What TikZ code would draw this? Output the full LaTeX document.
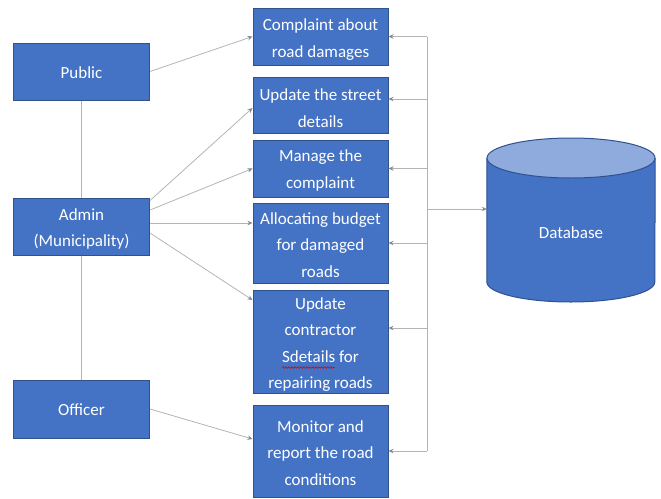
\documentclass[tikz,border=0pt]{standalone}
\usepackage{fontspec}
\setmainfont{Carlito}
\usetikzlibrary{arrows.meta,decorations.pathmorphing}
\definecolor{boxfill}{HTML}{4472C4}
\definecolor{boxedge}{HTML}{2F528F}
\definecolor{capfill}{HTML}{8FAADC}
\definecolor{wire}{HTML}{B4B4B4}
\definecolor{tipcol}{HTML}{7F8A9C}
\tikzset{
  actor/.style={rectangle, fill=boxfill, draw=boxedge, line width=1pt,
    minimum width=136pt, inner sep=0pt},
  task/.style={rectangle, fill=boxfill, draw=boxedge, line width=1pt,
    minimum width=135pt, inner sep=0pt},
  caption/.style={inner sep=0pt, text=white, align=center,
    font=\fontsize{17}{26.5}\selectfont},
  link/.style={draw=wire, line width=0.8pt},
  arr/.style={link, -{Stealth[length=5pt,width=4.5pt,color=tipcol]}},
  squiggle/.style={draw=red!85!black, line width=0.6pt,
    decorate, decoration={snake, amplitude=0.8pt, segment length=3pt}}
}
\begin{document}
\begin{tikzpicture}[x=1pt,y=-1pt]
\useasboundingbox (0,0) rectangle (661,498);

% actors
\node[actor, minimum height=57pt] (pub) at (81.5,71.5) {};
\node[actor, minimum height=57pt] (adm) at (81.5,226.5) {};
\node[actor, minimum height=58pt] (off) at (81.5,409) {};
\node[caption] (tpub) at ([yshift=-1pt]pub.center) {Public};
\node[caption] (tadm) at ([yshift=-2.5pt]adm.center) {Admin\\(Municipality)};
\node[caption] (toff) at ([yshift=-1pt]off.center) {Officer};

% use cases
\node[task, minimum height=57pt]  (b1) at (320.5,36.5)  {};
\node[task, minimum height=56pt]  (b2) at (320.5,105)   {};
\node[task, minimum height=57pt]  (b3) at (320.5,168.5) {};
\node[task, minimum height=80pt]  (b4) at (320.5,243)   {};
\node[task, minimum height=103pt] (b5) at (320.5,341.5) {};
\node[task, minimum height=92pt]  (b6) at (320.5,451)   {};
\node[caption] (t1) at ([yshift=-3pt]b1.center) {Complaint about\\road damages};
\node[caption] (t2) at ([yshift=-3pt]b2.center) {Update the street\\details};
\node[caption] (t3) at ([yshift=-2pt]b3.center) {Manage the\\complaint};
\node[caption] (t4) at ([yshift=-2pt]b4.center) {Allocating budget\\for damaged\\roads};
\node[caption] (t5) at ([yshift=-3pt]b5.center) {Update\\contractor\\Sdetails for\\repairing roads};
\node[caption] (t6) at ([yshift=-2pt]b6.center) {Monitor and\\report the road\\conditions};

% spell-check squiggle under "Sdetails"
\draw[squiggle] ([xshift=-38.5pt,yshift=-26pt]b5.center) -- ([xshift=14pt,yshift=-26pt]b5.center);

% database cylinder
\node[minimum width=168pt, minimum height=164pt, inner sep=0pt] (db) at (571,220) {};
\fill[boxfill] (db.west |- 0,158) -- (db.west |- 0,282)
  arc[start angle=180, end angle=360, x radius=84pt, y radius=20pt]
  -- (db.east |- 0,158) -- cycle;
\draw[boxedge, line width=1pt] (db.west |- 0,158) -- (db.west |- 0,282)
  arc[start angle=180, end angle=360, x radius=84pt, y radius=20pt]
  -- (db.east |- 0,158);
\draw[boxedge, line width=1pt, fill=capfill] (571,158) ellipse[x radius=84pt, y radius=20pt];
\node[text=white, font=\fontsize{17}{20}\selectfont] (dbl) at ([yshift=-13pt]db.center) {Database};

% hierarchy lines
\draw[link] (pub.south) -- (adm.north);
\draw[link] (adm.south) -- (off.north);

% actor to use case
\draw[arr] (pub.east) -- (b1.west);
\draw[arr] ([yshift=26pt]adm.east) -- ([yshift=-3pt]b2.west);
\draw[arr] ([yshift=16.5pt]adm.east) -- (b3.west);
\draw[arr] ([yshift=3.5pt]adm.east) -- ([yshift=3.5pt]adm.east -| b4.west);
\draw[arr] ([yshift=-6.5pt]adm.east) -- ([yshift=41.5pt]b5.west);
\draw[arr] (off.east) -- ([yshift=12pt]b6.west);

% database bus
\coordinate (bus) at (427,0);
\draw[link] (bus |- b1.east) -- (bus |- b6.east);
\draw[arr] (bus |- b1.east) -- (b1.east);
\draw[arr] (bus |- 0,99) -- ([yshift=6pt]b2.east);
\draw[arr] (bus |- b3.east) -- (b3.east);
\draw[arr] (bus |- b4.east) -- (b4.east);
\draw[arr] (bus |- 0,328) -- ([yshift=13.5pt]b5.east);
\draw[arr] (bus |- b6.east) -- (b6.east);
\draw[arr] (bus |- 0,209) -- ([yshift=11pt]db.west);
\end{tikzpicture}
\end{document}
